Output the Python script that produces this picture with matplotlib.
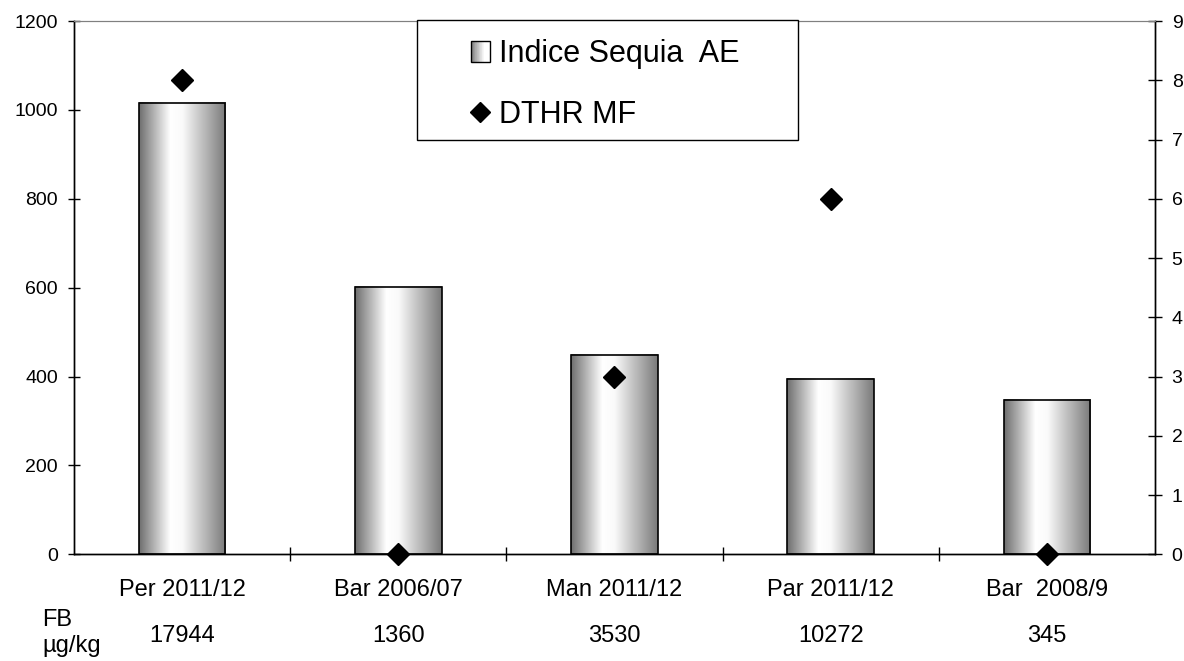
import numpy as np
import matplotlib
matplotlib.use("Agg")
import matplotlib.pyplot as plt
from matplotlib.colors import LinearSegmentedColormap
from matplotlib.patches import Rectangle
from matplotlib.lines import Line2D
from matplotlib.legend_handler import HandlerBase
from matplotlib.transforms import blended_transform_factory

plt.rcParams['font.family'] = ['Liberation Sans', 'DejaVu Sans']

# Campaign data
categories = ["Per 2011/12", "Bar 2006/07", "Man 2011/12", "Par 2011/12", "Bar  2008/9"]
indice_sequia = [1015, 602, 449, 395, 347]   # left axis
dthr_mf = [8, 0, 3, 6, 0]                    # right axis
fb_ugkg = [17944, 1360, 3530, 10272, 345]    # FB content row

# cylinder-like shading for the bars, plain fade for the legend key
cyl = LinearSegmentedColormap.from_list(
    "cyl", [(0.0, "#6e6e6e"), (0.36, "#ffffff"), (0.5, "#fafafa"), (1.0, "#7a7a7a")])
fade = LinearSegmentedColormap.from_list(
    "fade", [(0.0, "#7a7a7a"), (0.7, "#ffffff"), (1.0, "#ffffff")])


class GradientHandler(HandlerBase):
    """Legend key drawn as a shaded square."""

    def create_artists(self, legend, orig_handle, xdescent, ydescent,
                       width, height, fontsize, trans):
        n = 30
        arts = []
        for i in range(n):
            arts.append(Rectangle((-xdescent + width * i / n, -ydescent), width / n, height,
                                  facecolor=fade((i + 0.5) / n), edgecolor='none',
                                  transform=trans))
        arts.append(Rectangle((-xdescent, -ydescent), width, height, facecolor='none',
                              edgecolor='black', lw=1, transform=trans))
        return arts


fig = plt.figure(figsize=(11.84, 6.61), dpi=100)
ax = fig.add_axes([0.0625, 0.1614, 0.913, 0.8068])

x = np.arange(len(categories))
bars = ax.bar(x, indice_sequia, width=0.4, facecolor='none', edgecolor='black',
              linewidth=1.2, zorder=3)
grad = np.linspace(0, 1, 256).reshape(1, -1)
for b in bars:
    x0, y0 = b.get_x(), b.get_y()
    ax.imshow(grad, cmap=cyl, aspect='auto', interpolation='bicubic', zorder=2,
              extent=(x0, x0 + b.get_width(), y0, y0 + b.get_height()))

ax.set_xlim(-0.5, len(categories) - 0.5)
ax.set_ylim(0, 1200)
ax.set_yticks(range(0, 1201, 200))
ax.tick_params(axis='y', direction='inout', length=9, width=1, labelsize=14, pad=7)
ax.set_xticks(x)
ax.set_xticklabels(categories)
ax.tick_params(axis='x', which='major', length=0, labelsize=17, pad=18)
ax.set_xticks(np.arange(0.5, len(categories) - 0.5, 1), minor=True)
ax.tick_params(axis='x', which='minor', direction='inout', length=10, width=1)

ax2 = ax.twinx()
ax2.plot(x, dthr_mf, linestyle='none', marker='D', color='black', ms=11,
         clip_on=False, zorder=5)
ax2.set_ylim(0, 9)
ax2.set_yticks(range(0, 10))
ax2.tick_params(axis='y', direction='inout', length=10, width=1, labelsize=14, pad=7)

for a in (ax, ax2):
    a.spines['top'].set_color('#808080')
    for s in ('left', 'right', 'bottom'):
        a.spines[s].set_color('black')
        a.spines[s].set_linewidth(1)

# FB row under the category labels
trans = blended_transform_factory(ax.transData, fig.transFigure)
for xi, v in zip(x, fb_ugkg):
    ax.text(xi, 0.0287, str(v), transform=trans, ha='center', va='baseline', fontsize=17)
fig.text(0.036, 0.0530, "FB", ha='left', va='baseline', fontsize=17)
fig.text(0.036, 0.0136, "µg/kg", ha='left', va='baseline', fontsize=17)

# legend box
frame = Rectangle((417 / 1184, 1 - 140 / 661), 381 / 1184, 120 / 661,
                  transform=fig.transFigure, facecolor='white', edgecolor='black',
                  lw=1, zorder=4)
fig.add_artist(frame)
bar_key = Rectangle((0, 0), 1, 1)
dia_key = Line2D([], [], linestyle='none', marker='D', color='black', ms=10.5)
fig.legend([bar_key, dia_key], ["Indice Sequia  AE", "DTHR MF"],
           handler_map={bar_key: GradientHandler()},
           loc='upper left', bbox_to_anchor=(0.3978, 0.9405),
           bbox_transform=fig.transFigure, frameon=False, borderpad=0,
           borderaxespad=0, fontsize=22, handlelength=0.62, handleheight=0.66,
           handletextpad=0.3, labelspacing=1.0).set_zorder(5)

fig.savefig("out.png", dpi=100)
